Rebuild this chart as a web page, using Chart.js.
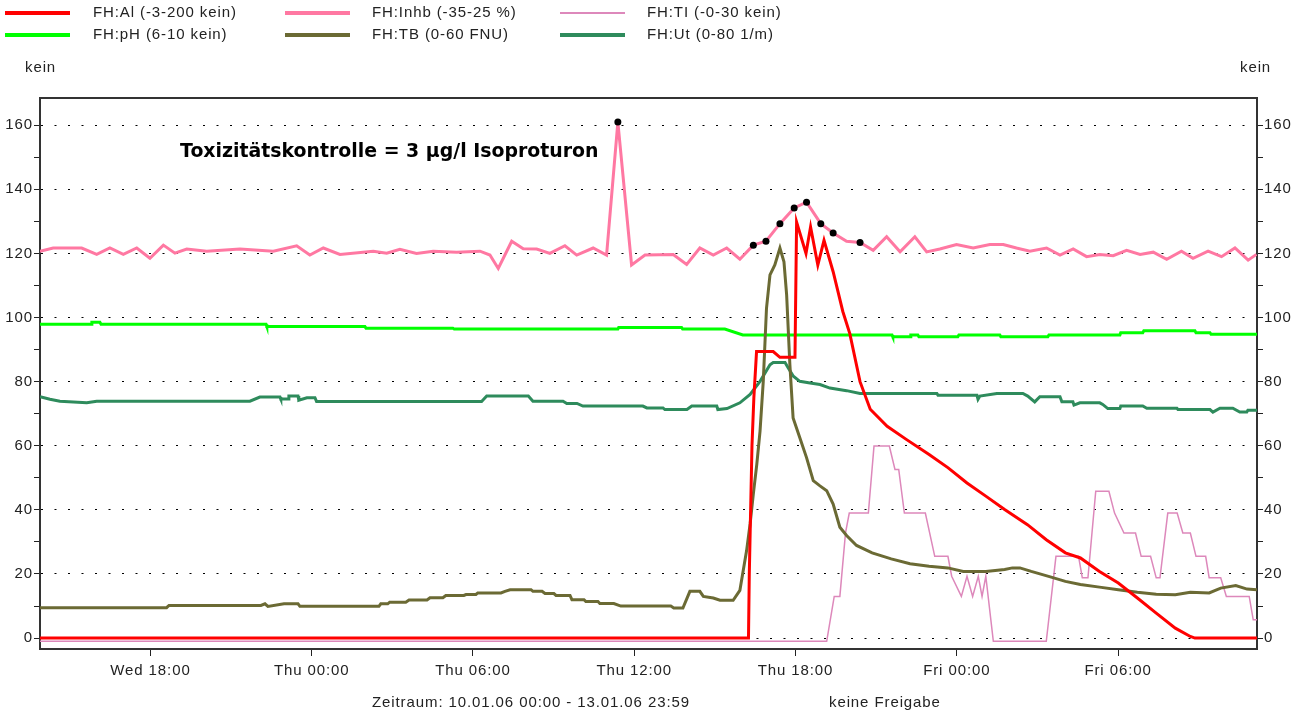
<!DOCTYPE html>
<html>
<head>
<meta charset="utf-8">
<script src="https://cdn.jsdelivr.net/npm/chart.js@4.4.1/dist/chart.umd.min.js"></script>
<style>
	html, body { margin: 0; padding: 0; background: #ffffff; }
	#wrap { position: relative; width: 1291px; height: 716px; }
</style>
</head>
<body>
<div id="wrap"><canvas id="chart" width="1291" height="716"></canvas></div>
<script>
// x values are hours counted from Wed 10.01.06 00:00
const tickHours = [18, 24, 30, 36, 42, 48, 54]
const tickLabels = ["Wed 18:00", "Thu 00:00", "Thu 06:00", "Thu 12:00", "Thu 18:00", "Fri 00:00", "Fri 06:00"]
const yTickValues = [0, 10, 20, 30, 40, 50, 60, 70, 80, 90, 100, 110, 120, 130, 140, 150, 160]

const seriesLabels = ["FH:Al (-3-200 kein)", "FH:Inhb (-35-25 %)", "FH:TI (-0-30 kein)", "FH:pH (6-10 kein)", "FH:TB (0-60 FNU)", "FH:Ut (0-80 1/m)"]

const alData = [
	[13.89, 0], [40.25, 0], [40.28, 20], [40.38, 60], [40.45, 75], [40.55, 89.4], [41.17, 89.4], [41.42, 87.6],
	[41.98, 87.6], [42.04, 129.8], [42.39, 120], [42.56, 128.3], [42.83, 116.4], [43.06, 124.1], [43.4, 114.3],
	[43.76, 101.9], [44.02, 95], [44.4, 80], [44.78, 71.4], [45.41, 66.1], [46.12, 62], [46.97, 57.3], [47.68, 53.1],
	[48.38, 48.4], [49.08, 44.3], [49.78, 40.1], [50.63, 35.4], [51.33, 30.7], [52.04, 26.6], [52.6, 25],
	[53.31, 20.8], [54.01, 17.2], [54.72, 12.5], [55.42, 7.8], [56.13, 3.1], [56.69, 0.5], [56.86, 0], [59.17, 0]
]

const inhbData = [
	[13.89, 120.7], [14.38, 121.7], [15.44, 121.7], [16.0, 119.7], [16.49, 121.7], [16.99, 119.7], [17.49, 121.7],
	[17.98, 118.5], [18.48, 122.6], [18.91, 120.1], [19.35, 121.4], [20.09, 120.7], [21.33, 121.4], [22.57, 120.7],
	[23.44, 122.4], [23.93, 119.5], [24.43, 121.7], [25.05, 119.7], [26.29, 120.7], [26.79, 120.1], [27.28, 121.3],
	[27.9, 120], [28.52, 120.7], [29.39, 120.4], [30.26, 120.7], [30.63, 119.5], [30.94, 115.3], [31.44, 123.8],
	[31.87, 121.5], [32.37, 121.4], [32.86, 120], [33.42, 122.4], [33.86, 119.5], [34.47, 121.7], [34.97, 119.5],
	[35.39, 161], [35.9, 116.4], [36.4, 119.5], [37.45, 119.7], [37.95, 116.6], [38.44, 121.7], [38.94, 119.5],
	[39.44, 121.7], [39.93, 118.2], [40.43, 122.6], [40.9, 123.8], [41.42, 129.3], [41.95, 134.2], [42.41, 136],
	[42.94, 129.3], [43.4, 126.4], [43.9, 123.8], [44.4, 123.4], [44.89, 121], [45.39, 125.2], [45.89, 120.5],
	[46.44, 125.2], [46.88, 120.5], [47.37, 121.4], [47.99, 122.8], [48.61, 121.7], [49.23, 122.8], [49.73, 122.8],
	[50.22, 121.7], [50.72, 120.7], [51.34, 121.7], [51.84, 119.5], [52.33, 121.4], [52.83, 119], [53.32, 119.7],
	[53.82, 119.3], [54.32, 121], [54.82, 119.7], [55.31, 120.4], [55.81, 118.2], [56.36, 120.7], [56.79, 118.5],
	[57.35, 120.7], [57.85, 119], [58.35, 121.7], [58.84, 117.9], [59.15, 119.7]
]
// measurements that are marked with a black dot
const inhbMarks = [35.39, 40.43, 40.9, 41.42, 41.95, 42.41, 42.94, 43.4, 44.4]

const tiData = [
	[13.89, -1], [43.16, -1], [43.44, 13], [43.65, 13], [43.86, 32.8], [44.0, 39], [44.71, 39], [44.92, 59.9],
	[45.49, 59.9], [45.7, 52.6], [45.84, 52.6], [46.05, 39], [46.83, 39], [47.18, 25.5], [47.67, 25.5], [47.81, 19.3],
	[48.17, 13], [48.38, 19.3], [48.59, 13], [48.8, 19.3], [48.94, 13], [49.08, 19.3], [49.36, -1], [51.33, -1],
	[51.69, 25.5], [52.53, 25.5], [52.67, 18.8], [52.88, 18.8], [53.17, 45.8], [53.66, 45.8], [53.87, 39],
	[54.22, 32.8], [54.65, 32.8], [54.86, 25.5], [55.21, 25.5], [55.42, 18.8], [55.56, 18.8], [55.85, 39], [56.2, 39],
	[56.41, 32.8], [56.69, 32.8], [56.9, 25.5], [57.26, 25.5], [57.39, 18.8], [57.82, 18.8], [58.03, 13], [58.88, 13],
	[59.03, 5.7], [59.17, 5.7]
]

const phData = [
	[13.89, 97.9], [15.79, 97.9], [15.82, 98.5], [16.12, 98.5], [16.16, 97.9], [22.3, 97.9], [22.33, 97.2],
	[25.98, 97.2], [26.02, 96.7], [29.25, 96.7], [29.3, 96.4], [35.39, 96.4], [35.42, 96.9], [37.76, 96.9],
	[37.8, 96.4], [39.37, 96.4], [40.04, 94.6], [45.59, 94.6], [45.62, 94.0], [46.26, 94.0], [46.29, 94.6],
	[46.55, 94.6], [46.59, 94.0], [48.04, 94.0], [48.08, 94.6], [49.6, 94.6], [49.64, 94.0], [51.39, 94.0],
	[51.43, 94.6], [54.07, 94.6], [54.1, 95.3], [54.92, 95.3], [54.96, 95.9], [56.86, 95.9], [56.9, 95.3],
	[57.42, 95.3], [57.46, 94.8], [59.17, 94.8]
]

const tbData = [
	[13.89, 9.5], [18.6, 9.5], [18.69, 10.2], [22.11, 10.2], [22.26, 10.7], [22.37, 9.9], [22.97, 10.7],
	[23.49, 10.7], [23.56, 9.9], [26.5, 9.9], [26.57, 10.7], [26.83, 10.7], [26.9, 11.2], [27.5, 11.2],
	[27.62, 11.9], [28.29, 11.9], [28.4, 12.6], [28.88, 12.6], [28.99, 13.3], [29.66, 13.3], [29.74, 13.6],
	[30.11, 13.6], [30.18, 14.1], [31.04, 14.1], [31.19, 14.6], [31.38, 15.1], [32.16, 15.1], [32.23, 14.6],
	[32.57, 14.6], [32.68, 13.9], [33.01, 13.9], [33.09, 13.3], [33.61, 13.3], [33.68, 12.0], [34.13, 12.0],
	[34.2, 11.4], [34.65, 11.4], [34.72, 10.8], [35.24, 10.8], [35.5, 10.0], [37.36, 10.0], [37.47, 9.4],
	[37.81, 9.4], [38.07, 14.6], [38.44, 14.6], [38.57, 13.0], [38.94, 12.5], [39.19, 11.8], [39.68, 11.8],
	[39.93, 14.9], [40.18, 27.3], [40.31, 35.6], [40.43, 44.9], [40.56, 54.3], [40.68, 64.6], [40.8, 80.1],
	[40.92, 102.9], [41.05, 113.3], [41.23, 116.4], [41.42, 121.7], [41.57, 117.4], [41.67, 107], [41.79, 85.3],
	[41.91, 68.7], [42.16, 62.5], [42.41, 56.3], [42.66, 49.1], [42.91, 47.5], [43.16, 46], [43.4, 41.8],
	[43.65, 34.6], [43.9, 32], [44.27, 28.9], [44.85, 26.6], [45.56, 24.7], [46.26, 23.2], [46.97, 22.4],
	[47.67, 21.9], [48.24, 20.8], [49.08, 20.8], [49.78, 21.4], [50.07, 21.9], [50.35, 21.9], [50.77, 20.8],
	[51.48, 19.1], [52.04, 17.7], [52.6, 16.7], [53.31, 15.9], [54.01, 15.1], [54.72, 14.3], [55.42, 13.7],
	[56.13, 13.5], [56.69, 14.3], [57.39, 14.1], [57.82, 15.6], [58.38, 16.4], [58.8, 15.3], [59.17, 15.1]
]

const utData = [
	[13.89, 75.3], [14.26, 74.5], [14.63, 73.9], [15.63, 73.4], [16.0, 73.9], [21.7, 73.9], [22.07, 75.2],
	[22.82, 75.2], [22.85, 74.6], [23.12, 74.6], [23.15, 75.5], [23.49, 75.5], [23.52, 74.2], [23.82, 75.0],
	[24.12, 75.0], [24.18, 73.8], [30.32, 73.8], [30.51, 75.5], [32.06, 75.5], [32.23, 73.9], [33.35, 73.9],
	[33.49, 73.2], [33.87, 73.2], [34.09, 72.4], [36.32, 72.4], [36.47, 71.8], [37.07, 71.8], [37.14, 71.3],
	[37.96, 71.3], [38.14, 72.4], [39.07, 72.4], [39.11, 71.3], [39.45, 71.6], [39.93, 73.4], [40.31, 76],
	[40.68, 80.1], [41.05, 85.3], [41.17, 86], [41.61, 86], [41.73, 84.3], [41.92, 81.7], [42.16, 80.1],
	[42.54, 79.6], [42.91, 79.1], [43.28, 78], [43.9, 77.2], [44.4, 76.3], [47.26, 76.3], [47.3, 75.8],
	[48.75, 75.8], [48.79, 74.5], [48.86, 75.5], [49.49, 76.3], [50.46, 76.3], [50.64, 75.5], [50.9, 73.7],
	[51.09, 75.3], [51.84, 75.3], [51.91, 73.7], [52.32, 73.7], [52.36, 72.7], [52.58, 73.4], [53.32, 73.4],
	[53.43, 72.9], [53.62, 71.6], [54.07, 71.6], [54.1, 72.4], [54.92, 72.4], [55.07, 71.7], [56.19, 71.7],
	[56.23, 71.3], [57.42, 71.3], [57.53, 70.5], [57.79, 71.7], [58.27, 71.7], [58.53, 70.5], [58.79, 70.5],
	[58.83, 71.1], [59.17, 71.1]
]

const font = { family: "'Liberation Sans', Arial, sans-serif", size: 15 }
const textColor = "#222222"
const spacing = "0.9px"

function toPoints(pairs) {
	return pairs.map(p => ({ x: p[0], y: p[1] }))
}

function lineSet(label, data, color, width, order) {
	return {
		label: label,
		data: toPoints(data),
		borderColor: color,
		backgroundColor: color,
		borderWidth: width,
		pointRadius: 0,
		tension: 0,
		fill: false,
		order: order
	}
}

let inhbSet = lineSet(seriesLabels[1], inhbData, "#ff78a2", 3, 2)
inhbSet.pointRadius = (ctx) => (ctx.raw && inhbMarks.includes(ctx.raw.x)) ? 3.5 : 0
inhbSet.pointBackgroundColor = "#000000"
inhbSet.pointBorderColor = "#000000"
inhbSet.pointBorderWidth = 0

const datasets = [
	lineSet(seriesLabels[0], alData, "#ff0000", 3, 0),
	inhbSet,
	lineSet(seriesLabels[2], tiData, "#dd88bb", 1.5, 3),
	lineSet(seriesLabels[3], phData, "#00ff00", 3, 4),
	lineSet(seriesLabels[4], tbData, "#6b6a34", 3, 1),
	lineSet(seriesLabels[5], utData, "#2e8b5c", 3, 5)
]

// legend, unit labels, frame and notes
const decorations = {
	id: "decorations",
	beforeDraw(chart) {
		// the original labels are set a little wider than Liberation Sans
		chart.ctx.letterSpacing = spacing
	},
	afterDraw(chart) {
		const ctx = chart.ctx
		const area = chart.chartArea
		ctx.save()

		// top edge of the frame
		ctx.strokeStyle = "#333333"
		ctx.lineWidth = 2
		ctx.beginPath()
		ctx.moveTo(area.left - 1, area.top)
		ctx.lineTo(area.right + 1, area.top)
		ctx.stroke()

		ctx.letterSpacing = spacing
		ctx.font = `${font.size}px ${font.family}`
		ctx.fillStyle = textColor
		ctx.textBaseline = "middle"
		const lineStarts = [5, 285, 560]
		const textStarts = [93, 372, 647]
		const rows = [13, 35]
		chart.data.datasets.forEach((ds, i) => {
			let col = i % 3
			let y = rows[Math.floor(i / 3)]
			ctx.strokeStyle = ds.borderColor
			ctx.lineWidth = ds.borderWidth < 2 ? 2 : 4
			ctx.beginPath()
			ctx.moveTo(lineStarts[col], y)
			ctx.lineTo(lineStarts[col] + 65, y)
			ctx.stroke()
			ctx.fillStyle = textColor
			ctx.textAlign = "left"
			ctx.fillText(ds.label, textStarts[col], y)
		})

		ctx.textAlign = "left"
		ctx.fillText("kein", 25, 68)
		ctx.fillText("kein", 1240, 68)

		ctx.fillText("Zeitraum: 10.01.06 00:00 - 13.01.06 23:59", 372, 703)
		ctx.fillText("keine Freigabe", 829, 703)

		ctx.letterSpacing = "0px"
		ctx.font = "bold 18.9px 'DejaVu Sans', Verdana, sans-serif"
		ctx.fillStyle = "#000000"
		ctx.fillText("Toxizitätskontrolle = 3 µg/l Isoproturon", 180, 152)
		ctx.restore()
		ctx.letterSpacing = "0px"
	}
}

function yAxis(position, width, onArea) {
	return {
		type: "linear",
		position: position,
		min: -3.4,
		max: 168.5,
		afterBuildTicks: (s) => { s.ticks = yTickValues.map(v => ({ value: v })) },
		afterFit: (s) => { s.width = width },
		grid: {
			drawOnChartArea: onArea,
			color: (c) => (c.tick && c.tick.value % 20 === 0) ? "#000000" : "rgba(0,0,0,0)",
			tickColor: "#222222",
			tickLength: 6,
			lineWidth: 1
		},
		border: { color: "#333333", width: 2, dash: [2, 11.5] },
		ticks: {
			callback: (v) => v % 20 === 0 ? String(v) : "",
			font: font,
			color: textColor,
			padding: 1,
			autoSkip: false
		}
	}
}

new Chart(document.getElementById("chart"), {
	type: "line",
	data: { datasets: datasets },
	options: {
		responsive: false,
		animation: false,
		events: [],
		layout: { padding: { top: 98, left: 0, right: 0, bottom: 0 } },
		plugins: { legend: { display: false }, tooltip: { enabled: false } },
		scales: {
			x: {
				type: "linear",
				min: 13.89,
				max: 59.17,
				afterBuildTicks: (s) => { s.ticks = tickHours.map(v => ({ value: v })) },
				afterFit: (s) => { s.height = 67 },
				grid: { drawOnChartArea: false, color: "#222222", tickLength: 7, lineWidth: 1 },
				border: { color: "#333333", width: 2 },
				ticks: {
					callback: (v) => tickLabels[tickHours.indexOf(v)],
					font: font,
					color: textColor,
					padding: 6,
					maxRotation: 0,
					autoSkip: false
				}
			},
			y: yAxis("left", 40, true),
			y2: yAxis("right", 34, false)
		}
	},
	plugins: [decorations]
})
</script>
</body>
</html>
